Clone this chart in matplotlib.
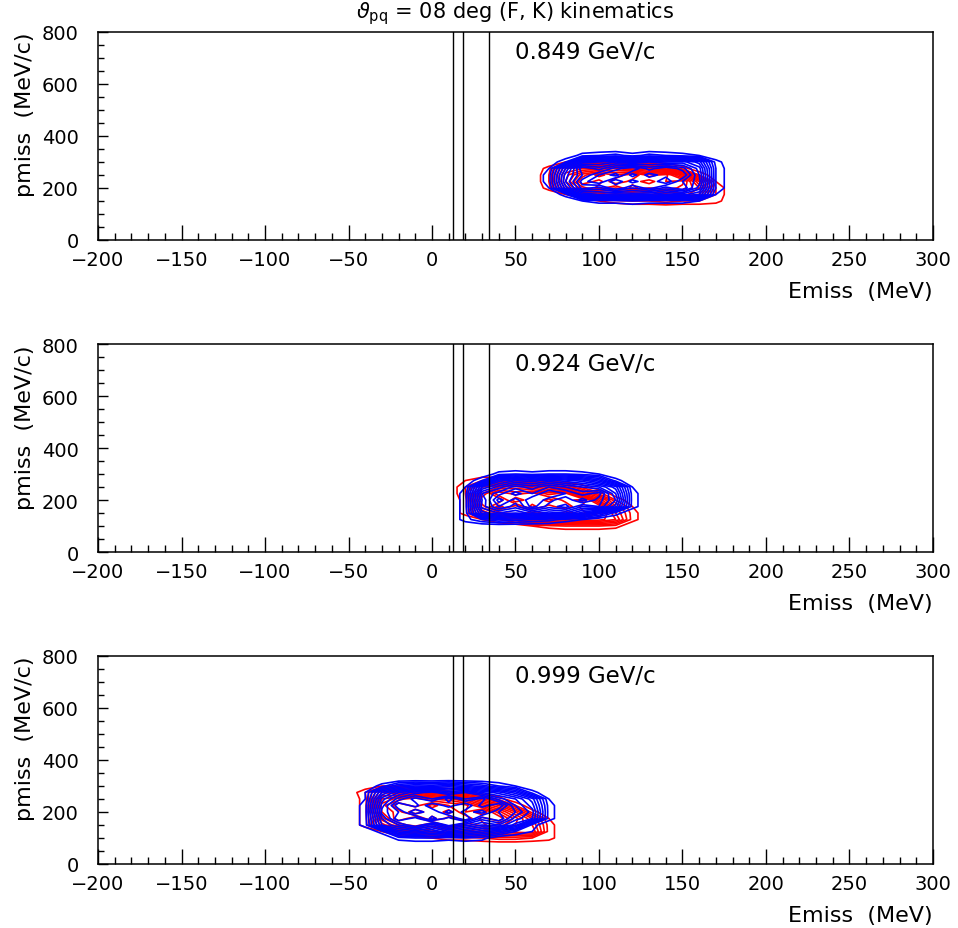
import numpy as np
import matplotlib
matplotlib.use("Agg")
import matplotlib.pyplot as plt
from matplotlib.ticker import MultipleLocator

# pmiss bin centres (MeV/c), shared by all panels
PMISS = [75, 100, 125, 150, 175, 200, 225, 250, 275, 300, 325, 350]

# Emiss bin centres (MeV) for each panel
EMISS_1 = [60, 70, 80, 90, 100, 110, 120, 130, 140, 150, 160, 170, 180]
EMISS_2 = [10, 20, 30, 40, 50, 60, 70, 80, 90, 100, 110, 120, 130]
EMISS_3 = [-50, -40, -30, -20, -10, 0, 10, 20, 30, 40, 50, 60, 70, 80]

# counts, rows = pmiss, cols = Emiss
BLUE_1 = [
    [0, 0, 0, 0, 0, 0, 0, 0, 0, 0, 0, 0, 0],
    [0, 0, 0, 0, 0, 0, 0, 0, 0, 0, 0, 0, 0],
    [0, 0, 0, 0, 0, 0, 0, 0, 0, 0, 0, 0, 0],
    [0, 0, 0, 2, 3, 3, 4, 3, 3, 3, 2, 0, 0],
    [0, 0, 3, 16, 18, 17, 19, 18, 16, 17, 14, 2, 0],
    [0, 2, 15, 25, 23, 28, 24, 27, 23, 26, 19, 4, 0],
    [0, 3, 18, 27, 30, 24, 29, 26, 30, 24, 21, 4, 0],
    [0, 3, 17, 24, 28, 31, 25, 29, 27, 28, 20, 4, 0],
    [0, 2, 14, 26, 23, 27, 30, 25, 28, 25, 19, 4, 0],
    [0, 0, 4, 17, 18, 20, 17, 20, 18, 19, 15, 3, 0],
    [0, 0, 0, 3, 4, 5, 3, 5, 4, 3, 2, 0, 0],
    [0, 0, 0, 0, 0, 0, 0, 0, 0, 0, 0, 0, 0],
]
RED_1 = [
    [0, 0, 0, 0, 0, 0, 0, 0, 0, 0, 0, 0, 0],
    [0, 0, 0, 0, 0, 0, 0, 0, 0, 0, 0, 0, 0],
    [0, 0, 0, 0, 0, 0, 0, 0, 0, 0, 0, 0, 0],
    [0, 0, 0, 0, 2, 3, 4, 4, 5, 4, 4, 3, 0],
    [0, 0, 2, 5, 14, 17, 15, 18, 17, 19, 16, 4, 0],
    [0, 3, 15, 21, 25, 22, 27, 24, 26, 23, 18, 4, 0],
    [0, 4, 18, 26, 23, 28, 25, 27, 24, 25, 14, 2, 0],
    [0, 4, 17, 23, 27, 24, 28, 23, 25, 16, 4, 0, 0],
    [0, 3, 14, 16, 17, 18, 15, 14, 9, 3, 0, 0, 0],
    [0, 0, 2, 3, 3, 3, 2, 2, 0, 0, 0, 0, 0],
    [0, 0, 0, 0, 0, 0, 0, 0, 0, 0, 0, 0, 0],
    [0, 0, 0, 0, 0, 0, 0, 0, 0, 0, 0, 0, 0],
]
BLUE_2 = [
    [0, 0, 0, 0, 0, 0, 0, 0, 0, 0, 0, 0, 0],
    [0, 0, 0, 0, 0, 0, 0, 0, 0, 0, 0, 0, 0],
    [0, 3, 6, 8, 7, 6, 5, 3, 2, 0, 0, 0, 0],
    [0, 3, 17, 20, 18, 21, 19, 20, 15, 9, 3, 0, 0],
    [0, 3, 21, 26, 23, 29, 25, 27, 22, 24, 17, 3, 0],
    [0, 3, 20, 29, 25, 30, 27, 24, 29, 25, 20, 3, 0],
    [0, 3, 22, 25, 29, 26, 30, 28, 25, 27, 18, 3, 0],
    [0, 2, 16, 21, 25, 23, 26, 24, 22, 20, 15, 2, 0],
    [0, 0, 4, 15, 18, 17, 19, 17, 15, 11, 3, 0, 0],
    [0, 0, 0, 3, 4, 3, 4, 4, 3, 2, 0, 0, 0],
    [0, 0, 0, 0, 0, 0, 0, 0, 0, 0, 0, 0, 0],
    [0, 0, 0, 0, 0, 0, 0, 0, 0, 0, 0, 0, 0],
]
RED_2 = [
    [0, 0, 0, 0, 0, 0, 0, 0, 0, 0, 0, 0, 0],
    [0, 0, 0, 0, 0, 2, 3, 4, 4, 4, 3, 0, 0],
    [0, 0, 2, 4, 7, 15, 17, 14, 16, 15, 12, 3, 0],
    [0, 3, 14, 19, 22, 19, 24, 21, 23, 18, 10, 3, 0],
    [0, 3, 19, 25, 21, 27, 23, 26, 21, 22, 8, 2, 0],
    [0, 3, 22, 20, 28, 24, 27, 23, 25, 14, 4, 0, 0],
    [0, 4, 18, 26, 23, 25, 21, 23, 12, 5, 0, 0, 0],
    [0, 4, 16, 18, 19, 17, 13, 8, 3, 0, 0, 0, 0],
    [0, 2, 4, 4, 3, 2, 0, 0, 0, 0, 0, 0, 0],
    [0, 0, 0, 0, 0, 0, 0, 0, 0, 0, 0, 0, 0],
    [0, 0, 0, 0, 0, 0, 0, 0, 0, 0, 0, 0, 0],
    [0, 0, 0, 0, 0, 0, 0, 0, 0, 0, 0, 0, 0],
]
BLUE_3 = [
    [0, 0, 0, 0, 0, 0, 0, 0, 0, 0, 0, 0, 0, 0],
    [0, 0, 0, 3, 4, 4, 3, 4, 3, 0, 0, 0, 0, 0],
    [0, 0, 3, 13, 15, 12, 16, 13, 11, 8, 4, 2, 0, 0],
    [0, 3, 16, 20, 24, 19, 25, 21, 18, 20, 15, 3, 0, 0],
    [0, 3, 18, 26, 23, 29, 25, 30, 23, 26, 19, 16, 3, 0],
    [0, 3, 21, 24, 30, 26, 31, 27, 29, 24, 22, 17, 3, 0],
    [0, 3, 19, 28, 25, 30, 27, 30, 25, 28, 20, 15, 3, 0],
    [0, 2, 17, 23, 27, 24, 29, 24, 27, 21, 18, 13, 2, 0],
    [0, 2, 12, 18, 21, 23, 19, 22, 18, 15, 11, 3, 0, 0],
    [0, 0, 3, 8, 10, 9, 11, 9, 7, 4, 2, 0, 0, 0],
    [0, 0, 0, 0, 0, 0, 0, 0, 0, 0, 0, 0, 0, 0],
    [0, 0, 0, 0, 0, 0, 0, 0, 0, 0, 0, 0, 0, 0],
]
RED_3 = [
    [0, 0, 0, 0, 0, 0, 0, 0, 0, 0, 0, 0, 0, 0],
    [0, 0, 0, 0, 0, 2, 3, 3, 4, 5, 5, 4, 3, 0],
    [0, 0, 2, 6, 10, 13, 16, 14, 17, 15, 13, 14, 3, 0],
    [0, 3, 13, 18, 22, 17, 24, 20, 23, 19, 16, 12, 3, 0],
    [0, 3, 17, 24, 20, 27, 23, 26, 21, 24, 17, 10, 2, 0],
    [0, 3, 20, 23, 28, 24, 27, 22, 26, 19, 12, 3, 0, 0],
    [0, 3, 21, 26, 23, 27, 24, 23, 17, 12, 4, 0, 0, 0],
    [0, 3, 18, 21, 24, 20, 19, 15, 9, 3, 0, 0, 0, 0],
    [0, 4, 14, 12, 10, 8, 5, 3, 0, 0, 0, 0, 0, 0],
    [0, 0, 2, 2, 0, 0, 0, 0, 0, 0, 0, 0, 0, 0],
    [0, 0, 0, 0, 0, 0, 0, 0, 0, 0, 0, 0, 0, 0],
    [0, 0, 0, 0, 0, 0, 0, 0, 0, 0, 0, 0, 0, 0],
]

MOMENTA = ["0.849 GeV/c", "0.924 GeV/c", "0.999 GeV/c"]
CUTS = [12.6, 18.6, 34.2]  # vertical lines, Emiss (MeV)
TITLE = r"$\vartheta_{\rm pq}$ = 08 deg (F, K) kinematics"

panels = [
    (EMISS_1, RED_1, BLUE_1),
    (EMISS_2, RED_2, BLUE_2),
    (EMISS_3, RED_3, BLUE_3),
]

fig = plt.figure(figsize=(9.58, 9.29), dpi=100)
levels = np.arange(2, 31, 2)
bottoms = [0.7406, 0.4047, 0.0689]

for i, (emiss, red, blue) in enumerate(panels):
    ax = fig.add_axes([0.1023, bottoms[i], 0.8716, 0.2239])
    ax.contour(emiss, PMISS, np.array(red), levels=levels, colors="red", linewidths=1.2)
    ax.contour(emiss, PMISS, np.array(blue), levels=levels, colors="blue", linewidths=1.2)
    for c in CUTS:
        ax.axvline(c, color="black", lw=1.0)
    ax.set_xlim(-200, 300)
    ax.set_ylim(0, 800)
    ax.xaxis.set_major_locator(MultipleLocator(50))
    ax.xaxis.set_minor_locator(MultipleLocator(10))
    ax.yaxis.set_major_locator(MultipleLocator(200))
    ax.yaxis.set_minor_locator(MultipleLocator(50))
    ax.tick_params(axis="x", which="major", direction="in", length=10.5, width=1, labelsize=14, pad=7)
    ax.tick_params(axis="x", which="minor", direction="in", length=5, width=1)
    ax.tick_params(axis="y", which="major", direction="in", length=7, width=1, labelsize=14, pad=14)
    ax.tick_params(axis="y", which="minor", direction="in", length=4, width=1)
    for s in ax.spines.values():
        s.set_linewidth(1.1)
    ax.text(50, 725, MOMENTA[i], fontsize=16.5, va="center", ha="left")
    ax.text(-0.087, 1.0, "pmiss  (MeV/c)", transform=ax.transAxes, rotation=90,
            fontsize=16, ha="center", va="top")
    ax.text(1.0, -0.245, "Emiss  (MeV)", transform=ax.transAxes,
            fontsize=16, ha="right", va="center")

fig.text(0.538, 0.985, TITLE, fontsize=15, ha="center", va="center")

fig.savefig("out.png", dpi=100)
